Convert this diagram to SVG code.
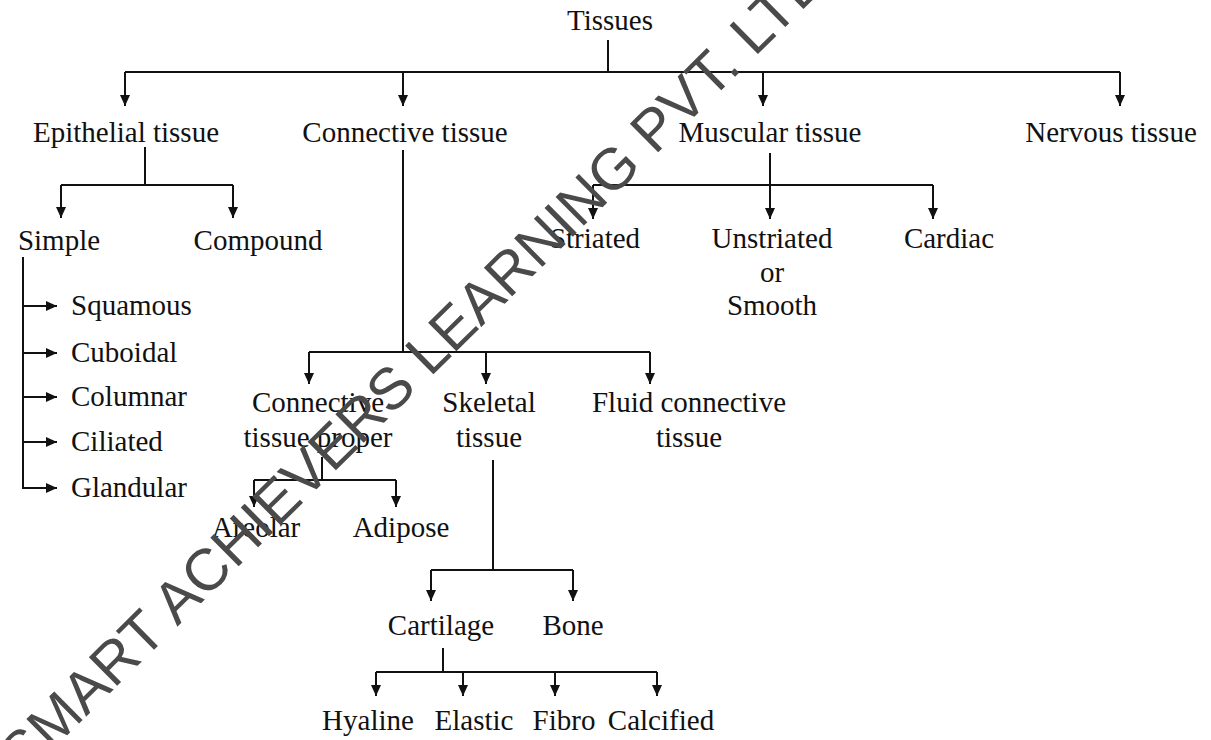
<svg xmlns="http://www.w3.org/2000/svg" width="1211" height="740" viewBox="0 0 1211 740">
<style>
text{font-family:"Liberation Serif","Times New Roman",serif;font-size:29px;fill:#111}
.c{text-anchor:middle}
.ln{stroke:#111;stroke-width:2;fill:none}
.ar{stroke:#111;stroke-width:2;fill:none;marker-end:url(#ah)}
.wm{font-family:"Liberation Sans",Arial,sans-serif;font-size:58.6px;fill:#4a4a4a}
</style>
<defs>
<marker id="ah" viewBox="0 0 11 10" refX="11" refY="5" markerWidth="11" markerHeight="10" markerUnits="userSpaceOnUse" orient="auto"><path d="M0,0 L11,5 L0,10 z" fill="#111"/></marker>
</defs>
<rect width="1211" height="740" fill="#fff"/>
<g id="connectors">
<path class="ln" d="M608,40 V72 M125,72 H1120"/>
<path class="ar" d="M125,72 V106"/>
<path class="ar" d="M403,72 V106"/>
<path class="ar" d="M763,72 V106"/>
<path class="ar" d="M1120,72 V106"/>
<path class="ln" d="M145,147 V185 M61,185 H233"/>
<path class="ar" d="M61,185 V218"/>
<path class="ar" d="M233,185 V218"/>
<path class="ln" d="M23,257 V488"/>
<path class="ar" d="M23,306 H57"/>
<path class="ar" d="M23,353 H57"/>
<path class="ar" d="M23,397 H57"/>
<path class="ar" d="M23,442 H57"/>
<path class="ar" d="M22,488 H57"/>
<path class="ln" d="M770,153 V185 M593,185 H933"/>
<path class="ar" d="M593,185 V219"/>
<path class="ar" d="M770,185 V219"/>
<path class="ar" d="M933,185 V219"/>
<path class="ln" d="M403,150 V352 M309,352 H650"/>
<path class="ar" d="M309,352 V384"/>
<path class="ar" d="M486,352 V384"/>
<path class="ar" d="M650,352 V384"/>
<path class="ln" d="M322,457 V480 M254,480 H396"/>
<path class="ar" d="M254,480 V507"/>
<path class="ar" d="M396,480 V507"/>
<path class="ln" d="M493,460 V570 M431,570 H573"/>
<path class="ar" d="M431,570 V601"/>
<path class="ar" d="M573,570 V601"/>
<path class="ln" d="M443,648 V672 M376,672 H657"/>
<path class="ar" d="M376,672 V696"/>
<path class="ar" d="M463,672 V696"/>
<path class="ar" d="M555,672 V696"/>
<path class="ar" d="M657,672 V696"/>
</g>
<g id="n-tissues"><text class="c" x="610" y="30">Tissues</text></g>
<g id="n-epithelial"><text class="c" x="126" y="142">Epithelial tissue</text></g>
<g id="n-connective"><text class="c" x="405" y="142">Connective tissue</text></g>
<g id="n-muscular"><text class="c" x="770" y="142">Muscular tissue</text></g>
<g id="n-nervous"><text class="c" x="1111" y="142">Nervous tissue</text></g>
<g id="n-simple"><text class="c" x="59" y="250">Simple</text></g>
<g id="n-compound"><text class="c" x="258" y="250">Compound</text></g>
<g id="n-squamous"><text x="71" y="315">Squamous</text></g>
<g id="n-cuboidal"><text x="71" y="362">Cuboidal</text></g>
<g id="n-columnar"><text x="71" y="406">Columnar</text></g>
<g id="n-ciliated"><text x="71" y="451">Ciliated</text></g>
<g id="n-glandular"><text x="71" y="497">Glandular</text></g>
<g id="n-striated"><text class="c" x="595" y="248">Striated</text></g>
<g id="n-unstriated"><text class="c" x="772" y="248">Unstriated</text><text class="c" x="772" y="282">or</text><text class="c" x="772" y="315">Smooth</text></g>
<g id="n-cardiac"><text class="c" x="949" y="248">Cardiac</text></g>
<g id="n-ctproper"><text class="c" x="318" y="412">Connective</text><text class="c" x="318" y="447">tissue proper</text></g>
<g id="n-skeletal"><text class="c" x="489" y="412">Skeletal</text><text class="c" x="489" y="447">tissue</text></g>
<g id="n-fluid"><text class="c" x="689" y="412">Fluid connective</text><text class="c" x="689" y="447">tissue</text></g>
<g id="n-areolar"><text class="c" x="256" y="537">Areolar</text></g>
<g id="n-adipose"><text class="c" x="401" y="537">Adipose</text></g>
<g id="n-cartilage"><text class="c" x="441" y="635">Cartilage</text></g>
<g id="n-bone"><text class="c" x="573" y="635">Bone</text></g>
<g id="n-hyaline"><text class="c" x="368" y="730">Hyaline</text></g>
<g id="n-elastic"><text class="c" x="474" y="730">Elastic</text></g>
<g id="n-fibro"><text class="c" x="564" y="730">Fibro</text></g>
<g id="n-calcified"><text class="c" x="661" y="730">Calcified</text></g>
<g id="watermark"><text class="wm" transform="translate(23.4,778.5) rotate(-44.6)">SMART ACHIEVERS LEARNING PVT. LTD.</text></g>
</svg>
